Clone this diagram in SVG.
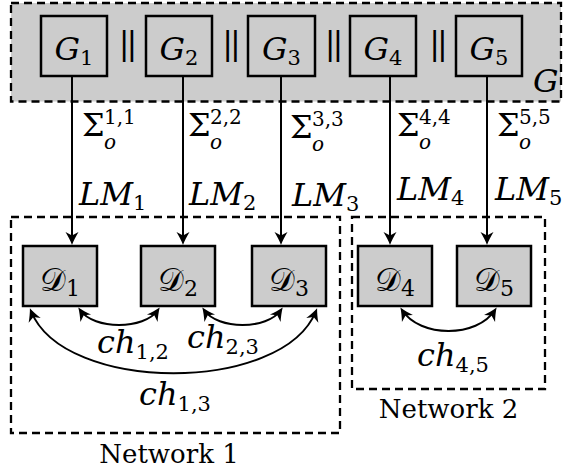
<svg xmlns="http://www.w3.org/2000/svg" width="566" height="473" viewBox="0 0 566 473">
<defs>
<style>
.box{fill:#cccccc;stroke:#000;stroke-width:2.5}
.dash{stroke:#000;stroke-width:2.3;stroke-dasharray:8 5}
.m{font-family:'DejaVu Serif',serif;font-size:32px;font-style:italic;fill:#000}
.rm{font-family:'DejaVu Serif',serif;font-size:32px;fill:#000}
.s{font-size:21px;font-style:normal}
.si{font-family:'DejaVu Serif',serif;font-size:20px;font-style:italic}
.sr{font-family:'DejaVu Serif',serif;font-size:20px}
.lbl{font-family:'DejaVu Serif',serif;font-size:26px;fill:#000}
.cal{font-family:'DejaVu Serif','DejaVu Sans',serif;font-size:32px;fill:#000}
.sd{font-family:'DejaVu Serif',serif;font-size:22px}
.ln{stroke:#000;stroke-width:2;fill:none}
.arr{marker-end:url(#ah)}
.arr2{marker-start:url(#ah);marker-end:url(#ah)}
</style>
<marker id="ah" markerUnits="userSpaceOnUse" viewBox="-15 -8 16 16" markerWidth="16" markerHeight="16" refX="-3" refY="0" orient="auto-start-reverse">
<path d="M0,0 C-4,-1.5 -9,-4 -13,-6.5 L-9.5,0 L-13,6.5 C-9,4 -4,1.5 0,0Z" fill="#000"/>
</marker>
</defs>
<rect width="566" height="473" fill="#fff"/>

<g id="G">
<rect x="11" y="3" width="550" height="98.5" fill="#cccccc" class="dash"/>
<text class="m" x="533" y="92">G</text>
<text class="rm" x="126.5" y="54" text-anchor="middle" letter-spacing="-3">||</text>
<text class="rm" x="230" y="54" text-anchor="middle" letter-spacing="-3">||</text>
<text class="rm" x="332.5" y="54" text-anchor="middle" letter-spacing="-3">||</text>
<text class="rm" x="437" y="54" text-anchor="middle" letter-spacing="-3">||</text>
</g>
<g id="G1"><rect class="box" x="41" y="16" width="66" height="60"/><text class="m" x="74" y="60" text-anchor="middle">G<tspan class="s" dy="5">1</tspan></text></g>
<g id="G2"><rect class="box" x="146" y="16" width="66" height="60"/><text class="m" x="179" y="60" text-anchor="middle">G<tspan class="s" dy="5">2</tspan></text></g>
<g id="G3"><rect class="box" x="248" y="16" width="67" height="60"/><text class="m" x="281.5" y="60" text-anchor="middle">G<tspan class="s" dy="5">3</tspan></text></g>
<g id="G4"><rect class="box" x="350" y="16" width="66" height="60"/><text class="m" x="383" y="60" text-anchor="middle">G<tspan class="s" dy="5">4</tspan></text></g>
<g id="G5"><rect class="box" x="456" y="16" width="66" height="60"/><text class="m" x="489" y="60" text-anchor="middle">G<tspan class="s" dy="5">5</tspan></text></g>

<g id="network1"><rect x="11" y="217" width="329" height="216" fill="none" class="dash"/><text class="lbl" x="169" y="463" text-anchor="middle">Network 1</text></g>
<g id="network2"><rect x="352" y="217" width="193" height="172" fill="none" class="dash"/><text class="lbl" x="448.5" y="418" text-anchor="middle">Network 2</text></g>

<g id="D1"><rect class="box" x="23" y="246" width="74" height="60"/><text class="cal" x="60" y="291" text-anchor="middle">𝒟<tspan class="sd" dy="5">1</tspan></text></g>
<g id="D2"><rect class="box" x="141" y="246" width="74" height="60"/><text class="cal" x="178" y="291" text-anchor="middle">𝒟<tspan class="sd" dy="5">2</tspan></text></g>
<g id="D3"><rect class="box" x="252" y="246" width="74" height="60"/><text class="cal" x="289" y="291" text-anchor="middle">𝒟<tspan class="sd" dy="5">3</tspan></text></g>
<g id="D4"><rect class="box" x="358" y="246" width="74" height="60"/><text class="cal" x="395" y="291" text-anchor="middle">𝒟<tspan class="sd" dy="5">4</tspan></text></g>
<g id="D5"><rect class="box" x="457" y="246" width="74" height="60"/><text class="cal" x="494" y="291" text-anchor="middle">𝒟<tspan class="sd" dy="5">5</tspan></text></g>

<g id="connectors">
<path class="ln arr" d="M72,76 V242"/>
<path class="ln arr" d="M183,76 V242"/>
<path class="ln arr" d="M281,76 V242"/>
<path class="ln arr" d="M390,76 V242"/>
<path class="ln arr" d="M487,76 V242"/>
<path class="ln arr2" d="M80,310 C94,330 144,330 158,310"/>
<path class="ln arr2" d="M204,310 C218,330 267,330 281,310"/>
<path class="ln arr2" d="M402,310 C420,338 477,338 495,310"/>
<path class="ln arr2" d="M31,311 C64,394 283,394 316,311"/>
</g>

<g id="labels">
<text class="rm" x="82" y="136">Σ</text><text class="sr" x="104" y="124">1,1</text><text class="si" x="104" y="149">o</text>
<text class="rm" x="188" y="136">Σ</text><text class="sr" x="210" y="124">2,2</text><text class="si" x="210" y="149">o</text>
<text class="rm" x="290" y="138">Σ</text><text class="sr" x="312" y="126">3,3</text><text class="si" x="312" y="151">o</text>
<text class="rm" x="397" y="136">Σ</text><text class="sr" x="419" y="124">4,4</text><text class="si" x="419" y="149">o</text>
<text class="rm" x="497" y="136">Σ</text><text class="sr" x="519" y="124">5,5</text><text class="si" x="519" y="149">o</text>

<text class="m" x="79" y="205">LM<tspan class="s" dy="5">1</tspan></text>
<text class="m" x="189" y="205">LM<tspan class="s" dy="5">2</tspan></text>
<text class="m" x="292" y="206">LM<tspan class="s" dy="5">3</tspan></text>
<text class="m" x="397" y="200">LM<tspan class="s" dy="5">4</tspan></text>
<text class="m" x="495" y="200">LM<tspan class="s" dy="5">5</tspan></text>

<text class="m" x="97" y="353">ch<tspan class="s" dy="6">1,2</tspan></text>
<text class="m" x="187" y="348">ch<tspan class="s" dy="6">2,3</tspan></text>
<text class="m" x="139" y="405">ch<tspan class="s" dy="6">1,3</tspan></text>
<text class="m" x="417" y="366">ch<tspan class="s" dy="6">4,5</tspan></text>
</g>
</svg>
